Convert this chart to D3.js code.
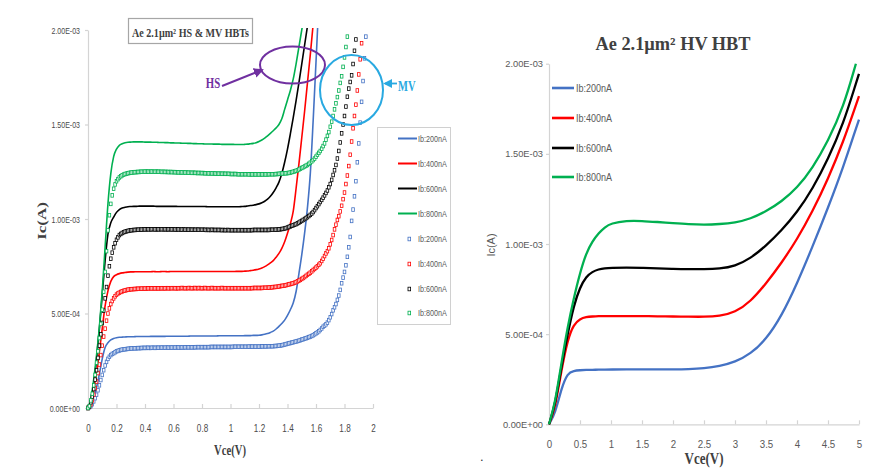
<!DOCTYPE html>
<html>
<head>
<meta charset="utf-8">
<script src="https://cdn.jsdelivr.net/npm/d3@7"></script>
<style>
  body { margin: 0; background: #fff; }
  svg { display: block; }
</style>
</head>
<body>
<svg id="chart" width="874" height="468"></svg>
<script>
// ---- series identity -------------------------------------------------
const ibLabels = ["Ib:200nA", "Ib:400nA", "Ib:600nA", "Ib:800nA"];
const ibColors = ["#4472C4", "#FF0000", "#000000", "#00B050"];

// ---- axis ticks ------------------------------------------------------
const icTicks = [0, 5e-4, 1e-3, 1.5e-3, 2e-3];
const icTickLabels = ["0.00E+00", "5.00E-04", "1.00E-03", "1.50E-03", "2.00E-03"];
const leftVceTicks = [0, 0.2, 0.4, 0.6, 0.8, 1, 1.2, 1.4, 1.6, 1.8, 2];
const rightVceTicks = [0, 0.5, 1, 1.5, 2, 2.5, 3, 3.5, 4, 4.5, 5];

// ---- HS devices (solid lines), Ic in µA, Vce sweep step 0.02 V ------
const hsStep = 0.02;
const hs200 = [0,15,50,110,180,260,320,345,360,368,
  372,374,375,376,377,377,377,378,378,378,
  378,378,379,379,379,379,379,379,380,380,
  380,380,380,380,380,380,381,381,381,381,
  381,381,381,381,381,381,382,382,382,382,
  382,382,382,382,382,383,383,383,384,384,
  385,387,390,394,400,407,418,432,447,465,
  490,520,555,615,710,810,925,1060,1240,1520,
  1830,2150];
const hs400 = [0,30,90,180,300,420,540,620,670,695,
  705,711,715,717,719,720,720,721,721,721,
  721,721,721,722,721,721,722,722,721,722,
  722,722,722,722,722,722,722,722,722,722,
  722,722,722,722,722,722,722,722,722,722,
  722,722,723,723,723,724,725,727,729,732,
  736,741,748,757,768,780,798,818,845,880,
  925,975,1040,1160,1290,1430,1570,1720,1870,2030];
const hs600 = [0,40,130,260,420,600,780,920,980,1010,
  1035,1050,1058,1062,1065,1066,1067,1067,1068,1068,
  1068,1068,1068,1068,1067,1067,1067,1067,1067,1067,
  1067,1067,1066,1066,1066,1066,1066,1066,1066,1066,
  1066,1066,1065,1065,1065,1065,1065,1065,1065,1065,
  1065,1065,1065,1065,1066,1067,1069,1071,1073,1076,
  1080,1086,1094,1105,1120,1140,1165,1195,1240,1300,
  1370,1450,1535,1625,1720,1820,1920,2020];
const hs800 = [0,50,150,280,430,620,850,1080,1240,1330,
  1370,1390,1398,1403,1406,1407,1408,1408,1408,1408,
  1407,1407,1407,1406,1406,1405,1405,1404,1404,1403,
  1403,1402,1402,1401,1401,1400,1400,1399,1399,1398,
  1398,1397,1397,1397,1396,1396,1396,1395,1395,1395,
  1395,1395,1394,1394,1394,1395,1396,1398,1400,1404,
  1410,1418,1428,1440,1453,1467,1482,1500,1530,1580,
  1630,1680,1740,1820,1910,2000,2090];

// ---- MV devices (markers), Ic in µA, Vce sweep step 0.01 V ----------
const mvStep = 0.01;
const mv200 = [0,4,10,20,35,52,70,94,120,148,
  175,200,225,244,260,271,280,286,290,295,
  300,302,305,307,309,310,311,312,313,314,
  315,315,316,316,316,317,317,317,318,318,
  318,318,319,318,318,319,319,318,319,319,
  319,319,320,319,319,320,320,319,320,320,
  320,320,320,321,320,320,321,320,321,321,
  321,321,321,321,321,321,322,322,322,322,
  322,322,322,322,322,322,323,323,323,323,
  323,323,323,323,323,323,323,323,323,323,
  323,323,324,324,324,324,324,324,324,324,
  324,324,324,325,325,325,325,325,325,325,
  325,325,326,326,326,326,327,327,327,327,
  327,328,328,329,330,331,332,334,336,338,
  340,342,344,346,348,350,352,354,356,359,
  362,364,367,369,372,375,378,381,385,390,
  395,400,406,413,421,430,436,443,452,465,
  480,497,517,533,550,572,595,625,660,690,
  720,755,800,850,905,990,1050,1120,1200,1300,
  1400,1510,1620,1730,1850,1965];
const mv400 = [0,6,20,40,70,105,140,185,230,280,
  330,378,420,462,500,527,550,566,580,591,
  600,606,610,614,617,620,622,624,626,627,
  628,629,629,630,630,631,631,631,632,632,
  632,632,633,633,633,633,633,633,633,633,
  633,633,634,633,633,634,634,633,634,634,
  634,634,633,634,634,634,635,634,634,634,
  634,635,634,634,634,635,634,634,635,634,
  634,634,635,634,634,634,634,635,634,634,
  634,634,634,634,635,634,634,634,634,634,
  634,634,634,634,634,634,634,634,634,634,
  634,634,634,634,634,634,635,635,635,635,
  635,635,635,636,636,636,637,637,638,638,
  640,640,641,642,643,645,646,647,648,650,
  652,654,656,658,660,663,666,670,674,678,
  683,688,693,699,705,710,716,723,730,736,
  743,750,758,766,778,790,804,818,830,845,
  866,889,915,945,970,995,1015,1040,1070,1105,
  1140,1185,1230,1280,1340,1410,1480,1545,1605,1680,
  1765,1845,1930];
const mv600 = [0,8,30,60,100,150,200,265,330,390,
  450,515,580,640,700,750,790,822,850,872,
  890,903,915,921,926,930,933,935,937,939,
  940,941,942,942,943,943,944,944,944,945,
  945,945,946,945,945,946,946,945,945,946,
  945,946,946,945,946,945,945,946,945,945,
  945,945,944,945,945,944,944,945,944,944,
  944,944,944,943,944,943,943,944,943,943,
  943,943,943,942,943,942,942,943,942,942,
  942,942,942,942,941,942,941,941,942,941,
  941,941,941,941,941,941,941,941,941,941,
  941,941,941,941,941,941,942,942,942,942,
  942,942,942,942,942,942,942,942,943,943,
  943,943,944,944,945,946,947,948,950,952,
  955,958,961,964,967,970,973,977,981,986,
  990,995,1000,1005,1010,1016,1022,1029,1037,1047,
  1058,1068,1079,1090,1101,1113,1125,1138,1151,1168,
  1185,1207,1233,1258,1286,1320,1360,1405,1453,1500,
  1545,1595,1647,1690,1725,1760,1820,1890,1950];
const mv800 = [0,10,40,75,120,175,240,300,370,445,
  520,615,720,830,940,1020,1080,1125,1160,1183,
  1200,1211,1220,1226,1231,1235,1238,1240,1242,1244,
  1245,1246,1247,1248,1248,1249,1249,1250,1250,1250,
  1251,1251,1251,1250,1251,1251,1250,1250,1251,1250,
  1250,1250,1249,1250,1249,1249,1249,1248,1249,1248,
  1248,1248,1247,1247,1247,1246,1247,1246,1246,1246,
  1245,1245,1245,1244,1245,1244,1244,1243,1244,1243,
  1243,1243,1242,1242,1242,1241,1242,1241,1241,1241,
  1240,1240,1240,1240,1239,1240,1239,1239,1239,1239,
  1238,1238,1238,1238,1238,1237,1237,1237,1237,1237,
  1237,1237,1237,1236,1236,1236,1236,1236,1236,1236,
  1236,1236,1236,1236,1236,1236,1236,1237,1237,1237,
  1237,1237,1238,1238,1239,1240,1241,1241,1242,1242,
  1243,1244,1246,1248,1250,1252,1255,1258,1262,1266,
  1270,1274,1278,1282,1286,1292,1298,1305,1312,1320,
  1330,1340,1350,1360,1372,1386,1400,1420,1440,1460,
  1488,1515,1545,1580,1612,1645,1680,1720,1755,1805,
  1855,1910,1965];

// ---- HV device, Ic in µA --------------------------------------------
const hvVce = [0,0.1,0.2,0.3,0.4,0.5,0.6,0.7,0.8,0.9,1.0,1.25,1.5,1.75,2.0,2.25,2.5,2.75,3.0,3.25,3.5,3.75,4.0,4.25,4.5,4.75,4.95,5.0];
const hv200 = [0,60,200,285,297,300,302,302,303,303,304,305,305,305,305,306,310,322,345,390,470,600,780,985,1200,1430,1640,1690];
const hv400 = [0,90,300,470,555,585,595,598,600,600,600,600,600,599,598,597,596,600,620,680,780,895,1025,1180,1360,1570,1770,1820];
const hv600 = [0,110,320,500,660,760,820,846,860,866,868,870,868,865,862,860,860,863,877,920,990,1075,1175,1305,1470,1670,1890,1944];
const hv800 = [0,120,340,540,700,840,950,1015,1060,1093,1115,1130,1128,1122,1116,1110,1107,1110,1118,1140,1180,1235,1310,1420,1570,1760,2000];

// ---- drawing ---------------------------------------------------------
const svg = d3.select("#chart");
const axisGrey = "#d4d4d4";
const labelGrey = "#595959";
const sans = "'Liberation Sans', Arial, sans-serif";
const serif = "'Liberation Serif', 'Times New Roman', serif";

// condense text horizontally to a fraction of its natural width
function condense(sel, k) {
  sel.each(function () {
    const w = this.getComputedTextLength();
    this.setAttribute("textLength", (w * k).toFixed(1));
    this.setAttribute("lengthAdjust", "spacingAndGlyphs");
  });
}

const defs = svg.append("defs");
defs.append("clipPath").attr("id", "clipL").append("rect")
  .attr("x", 80).attr("y", 28).attr("width", 300).attr("height", 384);
defs.append("clipPath").attr("id", "clipR").append("rect")
  .attr("x", 545).attr("y", 60).attr("width", 320).attr("height", 368);
function arrowMarker(id, color) {
  defs.append("marker").attr("id", id)
    .attr("viewBox", "0 0 10 10").attr("refX", 8).attr("refY", 5)
    .attr("markerWidth", 5).attr("markerHeight", 5).attr("orient", "auto")
    .append("path").attr("d", "M0,0 L10,5 L0,10 z").attr("fill", color);
}
arrowMarker("arrowHS", "#7030A0");
arrowMarker("arrowMV", "#29A9E1");

function styleAxis(g) {
  g.select(".domain").attr("stroke", axisGrey).attr("stroke-width", 1.2);
  g.selectAll(".tick line").attr("stroke", axisGrey).attr("stroke-width", 1.2);
  g.selectAll(".tick text").attr("fill", labelGrey).attr("font-family", sans);
}

// ====================== left chart: HS & MV ==========================
const xL = d3.scaleLinear().domain([0, 2]).range([88, 373]);
const yL = d3.scaleLinear().domain([0, 2e-3]).range([408, 30]);

const gyL = svg.append("g").attr("transform", `translate(${xL(0)},0)`)
  .call(d3.axisLeft(yL).tickValues(icTicks)
    .tickFormat((d, i) => icTickLabels[i]).tickSize(3).tickSizeOuter(0).tickPadding(5));
styleAxis(gyL);
gyL.selectAll(".tick text").attr("font-size", 9.5).attr("fill", "#4a4a4a");
condense(gyL.selectAll(".tick text"), 0.74);

const gxL = svg.append("g").attr("transform", `translate(0,${yL(0)})`)
  .call(d3.axisBottom(xL).tickValues(leftVceTicks)
    .tickFormat(d3.format("")).tickSize(-4).tickSizeOuter(0).tickPadding(16));
styleAxis(gxL);
gxL.selectAll(".tick text").attr("font-size", 11).attr("fill", "#4a4a4a");
condense(gxL.selectAll(".tick text"), 0.74);

const hsSeries = [hs200, hs400, hs600, hs800];
const mvSeries = [mv200, mv400, mv600, mv800];

const lineL = d3.line()
  .x(d => xL(d[0])).y(d => yL(d[1] * 1e-6))
  .curve(d3.curveMonotoneX);

const plotL = svg.append("g").attr("clip-path", "url(#clipL)");
hsSeries.forEach((s, k) => {
  plotL.append("path")
    .datum(s.map((v, i) => [i * hsStep, v]))
    .attr("d", lineL).attr("fill", "none")
    .attr("stroke", ibColors[k]).attr("stroke-width", 1.6);
});
mvSeries.forEach((s, k) => {
  plotL.append("g").selectAll("rect")
    .data(s.map((v, i) => [i * mvStep, v]))
    .join("rect")
    .attr("x", d => xL(d[0]) - 1.3).attr("y", d => yL(d[1] * 1e-6) - 1.8)
    .attr("width", 2.6).attr("height", 3.6)
    .attr("fill", "#fff").attr("stroke", ibColors[k]).attr("stroke-width", 0.8);
});

// axis titles
const vceL = svg.append("text").attr("x", 230).attr("y", 455)
  .attr("text-anchor", "middle").attr("font-family", serif)
  .attr("font-weight", "bold").attr("font-size", 14).attr("fill", "#404040")
  .text("Vce(V)");
condense(vceL, 0.76);
svg.append("text")
  .attr("transform", "translate(42,221) scale(0.72,1) rotate(-90)")
  .attr("dy", "0.35em").attr("text-anchor", "middle")
  .attr("font-family", serif).attr("font-weight", "bold")
  .attr("font-size", 17).attr("fill", "#404040").text("Ic(A)");

// title box
svg.append("rect").attr("x", 128.5).attr("y", 18.5).attr("width", 124).attr("height", 25)
  .attr("fill", "#fff").attr("stroke", "#a6a6a6").attr("stroke-width", 1.2);
svg.append("text").attr("x", 132).attr("y", 36.5)
  .attr("font-family", serif).attr("font-weight", "bold").attr("font-size", 13)
  .attr("fill", "#404040").attr("textLength", 117).attr("lengthAdjust", "spacingAndGlyphs")
  .text("Ae 2.1µm² HS & MV HBTs");

// HS / MV call-outs
svg.append("ellipse").attr("cx", 292.5).attr("cy", 65).attr("rx", 32.5).attr("ry", 18.5)
  .attr("fill", "none").attr("stroke", "#7030A0").attr("stroke-width", 2);
svg.append("line").attr("x1", 222).attr("y1", 86).attr("x2", 262).attr("y2", 70)
  .attr("stroke", "#7030A0").attr("stroke-width", 2).attr("marker-end", "url(#arrowHS)");
const hsText = svg.append("text").attr("x", 213).attr("y", 88).attr("text-anchor", "middle")
  .attr("font-family", serif).attr("font-weight", "bold").attr("font-size", 15)
  .attr("fill", "#7030A0").text("HS");
condense(hsText, 0.72);

svg.append("ellipse").attr("cx", 351.5).attr("cy", 90).attr("rx", 31.5).attr("ry", 35)
  .attr("fill", "none").attr("stroke", "#29A9E1").attr("stroke-width", 2);
svg.append("line").attr("x1", 397).attr("y1", 83.5).attr("x2", 385).attr("y2", 83.5)
  .attr("stroke", "#29A9E1").attr("stroke-width", 1.8).attr("marker-end", "url(#arrowMV)");
const mvText = svg.append("text").attr("x", 398).attr("y", 91)
  .attr("font-family", serif).attr("font-weight", "bold").attr("font-size", 15)
  .attr("fill", "#29A9E1").text("MV");
condense(mvText, 0.7);

// legend
svg.append("rect").attr("x", 377.5).attr("y", 127.5).attr("width", 73).attr("height", 197)
  .attr("fill", "#fff").attr("stroke", "#d0d0d0").attr("stroke-width", 1);
const legRowsL = [138.5, 163.5, 188.5, 213.5, 239, 264, 289, 313];
ibLabels.forEach((lab, k) => {
  const y = legRowsL[k];
  svg.append("line").attr("x1", 398).attr("x2", 417).attr("y1", y).attr("y2", y)
    .attr("stroke", ibColors[k]).attr("stroke-width", 2);
  condense(svg.append("text").attr("x", 418).attr("y", y).attr("dy", "0.35em")
    .attr("font-family", sans).attr("font-size", 9).attr("fill", labelGrey).text(lab), 0.8);
});
ibLabels.forEach((lab, k) => {
  const y = legRowsL[k + 4];
  svg.append("rect").attr("x", 408).attr("y", y - 1.8).attr("width", 2.6).attr("height", 3.6)
    .attr("fill", "#fff").attr("stroke", ibColors[k]).attr("stroke-width", 0.8);
  condense(svg.append("text").attr("x", 418).attr("y", y).attr("dy", "0.35em")
    .attr("font-family", sans).attr("font-size", 9).attr("fill", labelGrey).text(lab), 0.8);
});

// ====================== right chart: HV ==============================
const xR = d3.scaleLinear().domain([0, 5]).range([549, 859]);
const yR = d3.scaleLinear().domain([0, 2e-3]).range([424.3, 63.7]);

const gyR = svg.append("g").attr("transform", `translate(${xR(0)},0)`)
  .call(d3.axisLeft(yR).tickValues(icTicks)
    .tickFormat((d, i) => icTickLabels[i]).tickSize(3).tickSizeOuter(0).tickPadding(3));
styleAxis(gyR);
gyR.selectAll(".tick text").attr("font-size", 9.8);
condense(gyR.selectAll(".tick text"), 0.95);

const gxR = svg.append("g").attr("transform", `translate(0,${yR(0)})`)
  .call(d3.axisBottom(xR).tickValues(rightVceTicks)
    .tickFormat(d3.format("")).tickSize(-4).tickSizeOuter(0).tickPadding(15.5));
styleAxis(gxR);
gxR.selectAll(".tick text").attr("font-size", 11);
condense(gxR.selectAll(".tick text"), 0.88);

// smooth B-spline through the sampled characteristic
const lineR = d3.line()
  .x(d => xR(d[0])).y(d => yR(d[1] * 1e-6))
  .curve(d3.curveBasis);
const plotR = svg.append("g").attr("clip-path", "url(#clipR)");
[hv200, hv400, hv600, hv800].forEach((s, k) => {
  plotR.append("path")
    .datum(s.map((v, i) => [hvVce[i], v]))
    .attr("d", lineR).attr("fill", "none")
    .attr("stroke", ibColors[k]).attr("stroke-width", 2.3)
    .attr("stroke-linejoin", "round");
});

// legend inside plot
const legRowsR = [88, 118, 148, 177];
ibLabels.forEach((lab, k) => {
  const y = legRowsR[k];
  svg.append("line").attr("x1", 552).attr("x2", 574).attr("y1", y).attr("y2", y)
    .attr("stroke", ibColors[k]).attr("stroke-width", 2.6);
  condense(svg.append("text").attr("x", 576).attr("y", y).attr("dy", "0.35em")
    .attr("font-family", sans).attr("font-size", 10).attr("fill", labelGrey).text(lab), 0.9);
});

// titles
svg.append("text").attr("x", 673).attr("y", 49.5).attr("text-anchor", "middle")
  .attr("font-family", serif).attr("font-weight", "bold").attr("font-size", 18.5)
  .attr("fill", "#404040").attr("textLength", 155).attr("lengthAdjust", "spacingAndGlyphs")
  .text("Ae 2.1µm² HV HBT");
svg.append("text").attr("x", 704).attr("y", 464).attr("text-anchor", "middle")
  .attr("font-family", serif).attr("font-weight", "bold").attr("font-size", 16)
  .attr("fill", "#404040").attr("textLength", 39).attr("lengthAdjust", "spacingAndGlyphs")
  .text("Vce(V)");
svg.append("text")
  .attr("transform", "translate(491,245) rotate(-90)")
  .attr("dy", "0.35em").attr("text-anchor", "middle")
  .attr("font-family", sans).attr("font-size", 11).attr("fill", labelGrey).text("Ic(A)");

svg.append("text").attr("x", 480).attr("y", 461)
  .attr("font-family", sans).attr("font-size", 13).attr("fill", "#333").text(".");
</script>
</body>
</html>
